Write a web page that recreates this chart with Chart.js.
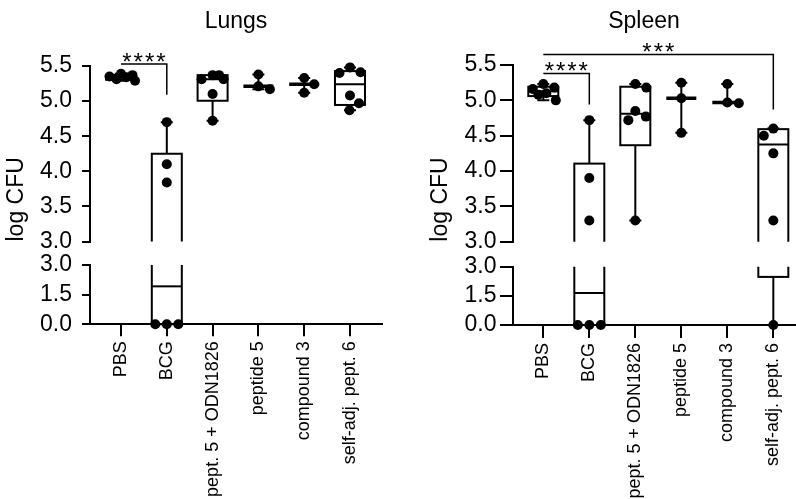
<!DOCTYPE html>
<html>
<head>
<meta charset="utf-8">
<script src="https://cdn.jsdelivr.net/npm/chart.js"></script>
<style>
html, body { margin: 0; padding: 0; background: #fff; overflow: hidden; }
#wrap { position: relative; width: 796px; height: 499px; overflow: hidden; background: #fff; }
#wrap canvas { position: absolute; }
</style>
</head>
<body>
<div id="wrap">
  <canvas id="lt" width="400" height="272" style="left:0px;top:0px"></canvas>
  <canvas id="lb" width="400" height="263" style="left:0px;top:236px"></canvas>
  <canvas id="rt" width="410" height="272" style="left:400px;top:0px"></canvas>
  <canvas id="rb" width="410" height="263" style="left:400px;top:236px"></canvas>
</div>
<script>
// ---------------- DATA ----------------
const categories = ['PBS', 'BCG', 'pept. 5 + ODN1826', 'peptide 5', 'compound 3', 'self-adj. pept. 6'];
const yTicksTop = [3.0, 3.5, 4.0, 4.5, 5.0, 5.5];
const yTicksBottom = [0.0, 1.5, 3.0];

// Lungs (log CFU)
const lungsPBS       = [5.39, 5.37, 5.35, 5.34, 5.31, 5.29];
const lungsBCG       = [4.70, 4.10, 3.84, 0.00, 0.00, 0.00];
const lungsPept5ODN  = [5.37, 5.31, 5.31, 5.37, 5.10, 4.72];
const lungsPeptide5  = [5.38, 5.21, 5.17];
const lungsCompound3 = [5.33, 5.24, 5.12];
const lungsSelfAdj6  = [5.48, 5.41, 5.40, 5.08, 4.97, 4.87];

// Spleen (log CFU)
const spleenPBS       = [5.23, 5.18, 5.16, 5.10, 5.08, 5.00];
const spleenBCG       = [4.72, 3.90, 3.30, 0.00, 0.00, 0.00];
const spleenPept5ODN  = [5.23, 5.18, 4.85, 4.77, 4.72, 3.30];
const spleenPeptide5  = [5.25, 5.03, 4.54];
const spleenCompound3 = [5.23, 4.97, 4.96];
const spleenSelfAdj6  = [4.60, 4.59, 4.50, 4.25, 3.30, 0.00];

// significance annotations (group indices, bracket level / drop in log CFU)
const lungsSig  = [{ from: 0, to: 1, label: '****', level: 5.53, drop: 5.09 }];
const spleenSig = [
  { from: 0, to: 1, label: '****', level: 5.38, drop: 4.94 },
  { from: 0, to: 5, label: '***',  level: 5.65, drop: 4.87 }
];

const lungsGroups  = [lungsPBS, lungsBCG, lungsPept5ODN, lungsPeptide5, lungsCompound3, lungsSelfAdj6];
const spleenGroups = [spleenPBS, spleenBCG, spleenPept5ODN, spleenPeptide5, spleenCompound3, spleenSelfAdj6];

// ---------------- HELPERS ----------------
const FONT = '"Liberation Sans", Arial, Helvetica, sans-serif';
const TOP_H = 272, BOT_TOP = 236, BOT_H = 263;

function quantile(sorted, p) {           // (n+1) method
  const n = sorted.length, pos = p * (n + 1);
  if (pos <= 1) return sorted[0];
  if (pos >= n) return sorted[n - 1];
  const lo = Math.floor(pos), f = pos - lo;
  return sorted[lo - 1] + f * (sorted[lo] - sorted[lo - 1]);
}
function stats(vals) {
  const s = vals.slice().sort((a, b) => a - b);
  return { min: s[0], q1: quantile(s, 0.25), med: quantile(s, 0.5), q3: quantile(s, 0.75), max: s[s.length - 1], n: s.length };
}

function boxPlugin(groups, segment) {
  return {
    id: 'boxes',
    beforeDatasetsDraw(chart) {
      const { ctx, chartArea: a, scales: { x, y } } = chart;
      ctx.save();
      ctx.beginPath();
      if (segment === 'top') ctx.rect(0, 0, chart.width, a.bottom);
      else ctx.rect(0, a.top, chart.width, chart.height - a.top);
      ctx.clip();
      ctx.strokeStyle = '#000';
      ctx.lineCap = 'butt';
      const hw = 15, cap = 6;
      const hline = (x1, x2, yy, lw) => { ctx.lineWidth = lw; ctx.beginPath(); ctx.moveTo(x1, yy); ctx.lineTo(x2, yy); ctx.stroke(); };
      const vline = (xx, y1, y2, lw) => { ctx.lineWidth = lw; ctx.beginPath(); ctx.moveTo(xx, y1); ctx.lineTo(xx, y2); ctx.stroke(); };
      groups.forEach((vals, i) => {
        const s = stats(vals);
        const cx = x.getPixelForValue(i);
        if (s.n >= 4) {
          const yt = y.getPixelForValue(s.q3), yb = y.getPixelForValue(s.q1);
          ctx.lineWidth = 2;
          ctx.strokeRect(cx - hw, yt, hw * 2, yb - yt);
          hline(cx - hw, cx + hw, y.getPixelForValue(s.med), 2);
          if (s.max > s.q3) { vline(cx, yt, y.getPixelForValue(s.max), 2); hline(cx - cap, cx + cap, y.getPixelForValue(s.max), 2); }
          if (s.min < s.q1) { vline(cx, yb, y.getPixelForValue(s.min), 2); hline(cx - cap, cx + cap, y.getPixelForValue(s.min), 2); }
        } else {
          vline(cx, y.getPixelForValue(s.min), y.getPixelForValue(s.max), 2);
          hline(cx - cap, cx + cap, y.getPixelForValue(s.max), 2);
          hline(cx - cap, cx + cap, y.getPixelForValue(s.min), 2);
          hline(cx - hw, cx + hw, y.getPixelForValue(s.med), 3.5);
        }
      });
      ctx.restore();
    }
  };
}

const swarmPlugin = {
  id: 'swarm',
  afterDatasetsUpdate(chart) {
    const meta = chart.getDatasetMeta(0);
    const raw = chart.data.datasets[0].data;
    const xs = chart.scales.x;
    const groups = {};
    meta.data.forEach((el, k) => { const g = raw[k].x; (groups[g] = groups[g] || []).push(el); });
    const D = 11.5, MAX = 14;
    Object.keys(groups).forEach(g => {
      const cx = xs.getPixelForValue(+g);
      const placed = [];
      groups[g].forEach(el => {
        const py = el.y;
        let best = 0, bestScore = -Infinity, found = false;
        for (let d = 0; d <= MAX && !found; d += 0.5) {
          const cands = d === 0 ? [0] : [d, -d];
          for (const dx of cands) {
            let md = Infinity;
            placed.forEach(p => { md = Math.min(md, Math.hypot(p.dx - dx, p.py - py)); });
            if (md >= D) { best = dx; found = true; break; }
            if (md > bestScore) { bestScore = md; best = dx; }
          }
        }
        placed.push({ dx: best, py });
        el.x = cx + best;
      });
    });
  }
};

function sigPlugin(sig) {
  return {
    id: 'sig',
    afterDraw(chart) {
      const { ctx, scales: { x, y } } = chart;
      ctx.save();
      ctx.strokeStyle = '#000';
      ctx.fillStyle = '#000';
      ctx.lineWidth = 1.5;
      sig.forEach(b => {
        const x1 = x.getPixelForValue(b.from), x2 = x.getPixelForValue(b.to);
        const yl = y.getPixelForValue(b.level), yd = y.getPixelForValue(b.drop);
        ctx.beginPath();
        ctx.moveTo(x1, yl); ctx.lineTo(x2, yl); ctx.lineTo(x2, yd);
        ctx.stroke();
        ctx.font = '24px ' + FONT;
        ctx.textAlign = 'center';
        ctx.textBaseline = 'alphabetic';
        const n = b.label.length, sp = 11.3, mid = (x1 + x2) / 2;
        for (let k = 0; k < n; k++) {
          ctx.fillText(b.label[k], mid + (k - (n - 1) / 2) * sp, yl + 5.7);
        }
      });
      ctx.restore();
    }
  };
}

function points(groups, lo, hi) {
  const out = [];
  groups.forEach((vals, i) => vals.forEach(v => { if (v >= lo && v <= hi) out.push({ x: i, y: v }); }));
  return out;
}

function scaleX(P, display, xMax) {
  return {
    type: 'linear', display: display, min: P.xMin, max: xMax,
    afterBuildTicks: s => { s.ticks = categories.map((c, i) => ({ value: i })); },
    afterFit: s => { if (display) s.height = 499 - P.base; },
    ticks: {
      color: '#000', font: { family: FONT, size: 18 }, autoSkip: false,
      maxRotation: 90, minRotation: 90, padding: P.xTickPad,
      callback: v => categories[v] !== undefined ? categories[v] : ''
    },
    grid: { display: true, drawOnChartArea: false, drawTicks: true, tickLength: P.xTickLen, color: '#000', lineWidth: 2 },
    border: { display: true, color: '#000', width: 2 }
  };
}

function scaleY(P, lo, hi, tickVals, withTitle) {
  const s = {
    type: 'linear', min: lo, max: hi,
    afterFit: sc => { sc.width = P.axisLeft; },
    afterBuildTicks: sc => { sc.ticks = tickVals.map(v => ({ value: v })); },
    ticks: { color: '#000', font: { family: FONT, size: 23 }, padding: P.yTickPad, autoSkip: false, callback: v => Number(v).toFixed(1) },
    grid: { display: true, drawOnChartArea: false, drawTicks: true, tickLength: P.yTickLen, color: '#000', lineWidth: 2 },
    border: { display: true, color: '#000', width: 2 }
  };
  if (withTitle) s.title = { display: true, text: 'log CFU', align: 'start', color: '#000', font: { family: FONT, size: 23 }, padding: { top: P.yTitlePad, bottom: 0 } };
  return s;
}

function makePanel(P, groups, sig, idTop, idBottom) {
  const titleSize = 23, titleLH = titleSize * 1.2;
  const pxPerCat = (P.axisRight - P.axisLeft) / (P.xMax - P.xMin);
  const xMaxTop = P.xMin + (P.titleRight - P.axisLeft) / pxPerCat;   // same px/category as the bottom part
  const ds = (pts) => ({
    datasets: [{ data: pts, pointRadius: 5, pointHoverRadius: 5, backgroundColor: '#000', borderWidth: 0, clip: false }]
  });
  new Chart(document.getElementById(idTop), {
    type: 'scatter',
    data: ds(points(groups, 3, 10)),
    options: {
      responsive: false, animation: false, events: [], devicePixelRatio: 1,
      layout: { autoPadding: false, padding: { left: 0, right: P.width - P.titleRight, top: 0, bottom: TOP_H - P.breakTop } },
      plugins: {
        legend: { display: false }, tooltip: { enabled: false },
        title: {
          display: true, text: P.title, fullSize: false, color: '#000',
          font: { family: FONT, size: titleSize, weight: 'normal' },
          padding: { top: 22 - titleLH / 2, bottom: P.top - 22 - titleLH / 2 }
        }
      },
      scales: { x: scaleX(P, false, xMaxTop), y: scaleY(P, 3, 5.5, yTicksTop, true) }
    },
    plugins: [boxPlugin(groups, 'top'), swarmPlugin, sigPlugin(sig)]
  });
  new Chart(document.getElementById(idBottom), {
    type: 'scatter',
    data: ds(points(groups, -1, 2.999)),
    options: {
      responsive: false, animation: false, events: [], devicePixelRatio: 1,
      layout: { autoPadding: false, padding: { left: 0, right: P.width - P.axisRight, top: P.breakBot - BOT_TOP, bottom: 0 } },
      plugins: { legend: { display: false }, tooltip: { enabled: false }, title: { display: false } },
      scales: { x: scaleX(P, true, P.xMax), y: scaleY(P, 0, 3, yTicksBottom, false) }
    },
    plugins: [boxPlugin(groups, 'bottom'), swarmPlugin]
  });
}

// layout constants (pixels, canvas-relative)
const PL = { title: 'Lungs', width: 400, axisLeft: 90, axisRight: 382, titleRight: 382, xMin: -0.677, xMax: 5.699,
  top: 66, breakTop: 241.5, breakBot: 265, base: 324.3 - BOT_TOP + BOT_TOP, yTickLen: 8, yTickPad: 10, yTitlePad: 3, xTickLen: 12, xTickPad: 5 };
const PR = { title: 'Spleen', width: 410, axisLeft: 113, axisRight: 396, titleRight: 375, xMin: -0.659, xMax: 5.493,
  top: 65, breakTop: 241.7, breakBot: 266.7, base: 325, yTickLen: 13, yTickPad: 3.5, yTitlePad: 27, xTickLen: 13, xTickPad: 5 };

makePanel(PL, lungsGroups, lungsSig, 'lt', 'lb');
makePanel(PR, spleenGroups, spleenSig, 'rt', 'rb');
</script>
</body>
</html>
